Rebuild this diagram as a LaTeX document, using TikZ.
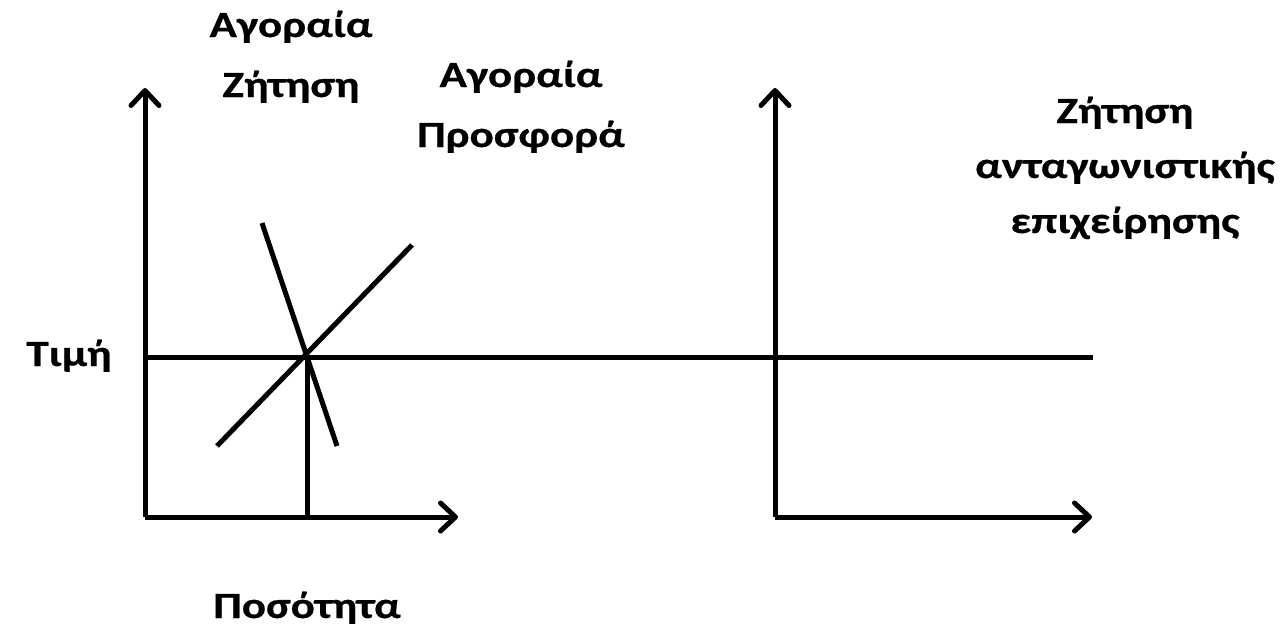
\documentclass[tikz,border=0pt]{standalone}
\usepackage{fontspec}
\setmainfont{Carlito}
\newfontfamily\lblfont{Carlito}[FakeStretch=1.22,BoldFont={Carlito Bold},BoldFeatures={FakeStretch=1.22,FakeBold=0.6}]
\usetikzlibrary{arrows.meta}
\begin{document}
\begin{tikzpicture}[x=1pt,y=-1pt,
  axis/.style={line width=5pt,-{Straight Barb[length=15pt,width=28pt,round]}},
  curve/.style={line width=5pt},
  lbl/.style={font=\lblfont\bfseries\fontsize{37}{60}\selectfont,align=center,inner sep=0pt,anchor=base},
  lblr/.style={lbl,font=\lblfont\bfseries\fontsize{37}{55}\selectfont}]
\useasboundingbox (0,0) rectangle (1282,627);
% left axes
\coordinate (O1) at (145,517);
\coordinate (Y1) at (145,88);
\coordinate (X1) at (458,517);
\draw[axis] (O1) -- (Y1);
\draw[axis] (O1) -- (X1);
% right axes
\coordinate (O2) at (775,517);
\coordinate (Y2) at (775,88);
\coordinate (X2) at (1092,517);
\draw[axis] (O2) -- (Y2);
\draw[axis] (O2) -- (X2);
% demand and supply
\coordinate (D1) at (262,223);
\coordinate (D2) at (337,446);
\coordinate (S1) at (217,446);
\coordinate (S2) at (412,245);
\draw[curve] (D1) -- (D2);
\draw[curve] (S1) -- (S2);
% price line and quantity drop
\coordinate (P0) at (145,357);
\coordinate (P1) at (1093,357);
\coordinate (E) at (307,357);
\coordinate (Q) at (307,517);
\draw[curve] (P0) -- (P1);
\draw[curve] (E) -- (Q);
% labels (base anchor = baseline of the last line)
\node[lbl] (md) at (291,97) {Αγοραία\\Ζήτηση};
\node[lbl] (ms) at (521,147) {Αγοραία\\Προσφορά};
\node[lblr] (cd) at (1125,233) {Ζήτηση\\ανταγωνιστικής\\επιχείρησης};
\node[lbl] (price) at (69,366) {Τιμή};
\node[lbl] (qty) at (307,618) {Ποσότητα};
\end{tikzpicture}
\end{document}
